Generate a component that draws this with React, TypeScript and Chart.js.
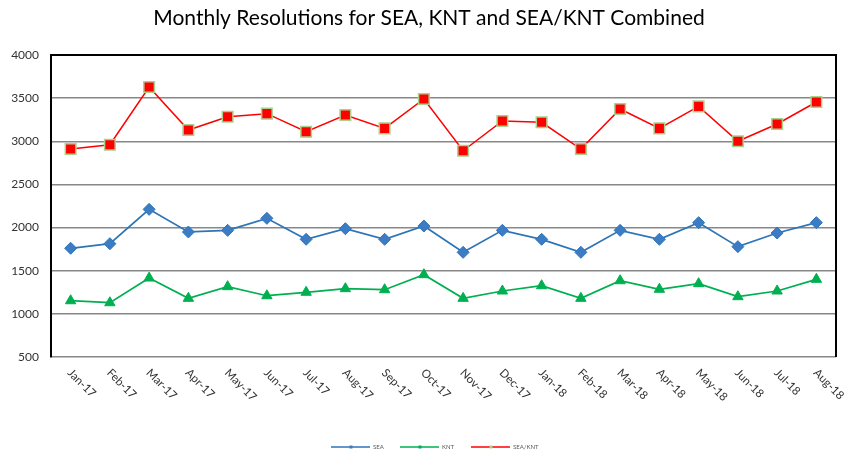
import React, { useEffect, useRef } from "react";
import { Chart, registerables } from "chart.js";

Chart.register(...registerables);

const categories = [
  "Jan-17", "Feb-17", "Mar-17", "Apr-17", "May-17", "Jun-17", "Jul-17", "Aug-17", "Sep-17", "Oct-17",
  "Nov-17", "Dec-17", "Jan-18", "Feb-18", "Mar-18", "Apr-18", "May-18", "Jun-18", "Jul-18", "Aug-18",
];
const seaValues = [1760, 1813, 2211, 1949, 1968, 2107, 1864, 1987, 1864, 2018, 1713, 1968, 1864, 1713, 1968, 1864, 2057, 1779, 1937, 2057];
const kntValues = [1152, 1129, 1415, 1180, 1315, 1210, 1250, 1292, 1280, 1454, 1180, 1265, 1326, 1180, 1384, 1285, 1350, 1199, 1265, 1400];
const combinedValues = [2910, 2960, 3629, 3130, 3285, 3320, 3110, 3305, 3150, 3490, 2890, 3235, 3220, 2910, 3374, 3150, 3405, 3000, 3200, 3455];
const seriesNames = ["SEA", "KNT", "SEA/KNT"];
const titleText = "Monthly Resolutions for SEA, KNT and SEA/KNT Combined";
const yMin = 500;
const yMax = 4000;
const yStep = 500;

const BLUE = "#2E75B6";
const BLUE_FILL = "#3C7CC4";
const GREEN = "#00B050";
const RED = "#FF0000";
const RED_BORDER = "#A9D18E";

const customPlugin = {
  id: "customDecor",
  afterDraw(chart: any) {
    const ctx = chart.ctx;
    const area = chart.chartArea;
    ctx.save();
    ctx.strokeStyle = "#000";
    ctx.lineWidth = 2;
    ctx.beginPath();
    ctx.moveTo(area.left, area.top);
    ctx.lineTo(area.right, area.top);
    ctx.lineTo(area.right, area.bottom);
    ctx.stroke();

    ctx.fillStyle = "#000";
    ctx.font = "21px Lato";
    ctx.textAlign = "center";
    ctx.textBaseline = "middle";
    ctx.fillText(titleText, 429, 18);

    const xs = chart.scales.x;
    ctx.font = "11.5px Lato";
    ctx.fillStyle = "#333";
    ctx.textAlign = "left";
    ctx.textBaseline = "middle";
    categories.forEach((c, i) => {
      const x = xs.getPixelForTick(i);
      ctx.save();
      ctx.translate(x - 1, area.bottom + 14);
      ctx.rotate(Math.PI / 4);
      ctx.fillText(c, 0, 0);
      ctx.restore();
    });

    const ly = 447;
    const items = [
      { x: 331, color: BLUE, fill: BLUE_FILL },
      { x: 400, color: GREEN, fill: GREEN },
      { x: 471, color: RED, fill: RED_BORDER },
    ];
    ctx.font = "6px Lato";
    ctx.textBaseline = "middle";
    items.forEach((it, i) => {
      ctx.strokeStyle = it.color;
      ctx.lineWidth = 1.5;
      ctx.beginPath();
      ctx.moveTo(it.x, ly);
      ctx.lineTo(it.x + 39, ly);
      ctx.stroke();
      ctx.fillStyle = it.fill;
      const mx = it.x + 20;
      ctx.fillRect(mx - 1.5, ly - 1.5, 3, 3);
      ctx.fillStyle = "#595959";
      ctx.textAlign = "left";
      ctx.fillText(seriesNames[i], it.x + 42, ly);
    });
    ctx.restore();
  },
};

export default function App() {
  const ref = useRef<HTMLCanvasElement>(null);
  useEffect(() => {
    document.body.style.margin = "0";
    const canvas = ref.current!;
    const chart = new Chart(canvas, {
      type: "line",
      data: {
        labels: categories,
        datasets: [
          {
            label: seriesNames[0],
            data: seaValues,
            borderColor: BLUE,
            borderWidth: 1.75,
            pointStyle: "rectRot",
            pointRadius: 6,
            pointBackgroundColor: BLUE_FILL,
            pointBorderColor: BLUE,
            pointBorderWidth: 1,
            tension: 0,
          },
          {
            label: seriesNames[1],
            data: kntValues,
            borderColor: GREEN,
            borderWidth: 1.75,
            pointStyle: "triangle",
            pointRadius: 6,
            pointBackgroundColor: GREEN,
            pointBorderColor: GREEN,
            pointBorderWidth: 1,
            tension: 0,
          },
          {
            label: seriesNames[2],
            data: combinedValues,
            borderColor: RED,
            borderWidth: 1.5,
            pointStyle: "rect",
            pointRadius: 7.5,
            pointBackgroundColor: RED,
            pointBorderColor: RED_BORDER,
            pointBorderWidth: 1.5,
            tension: 0,
          },
        ],
      },
      options: {
        responsive: false,
        animation: false,
        layout: { padding: { left: 8, right: 14, top: 55, bottom: 101 } },
        plugins: {
          legend: { display: false },
          title: { display: false },
          tooltip: { enabled: false },
        },
        scales: {
          x: {
            offset: true,
            grid: { display: false, drawTicks: false },
            border: { display: false },
            ticks: { display: false },
            afterFit: (s: any) => {
              s.height = 0;
            },
          },
          y: {
            min: yMin,
            max: yMax,
            ticks: {
              stepSize: yStep,
              padding: 12,
              color: "#333",
              font: { family: "Lato", size: 12 },
              callback: (v: any) => String(v),
            },
            grid: { color: "#888", lineWidth: 1.5, drawTicks: false },
            border: { display: true, color: "#000", width: 2 },
            afterFit: (s: any) => {
              s.width = 43;
            },
          },
        },
      },
      plugins: [customPlugin],
    });
    return () => chart.destroy();
  }, []);
  return (
    <div style={{ width: 850, height: 458 }}>
      <canvas ref={ref} width={850} height={458} />
    </div>
  );
}
